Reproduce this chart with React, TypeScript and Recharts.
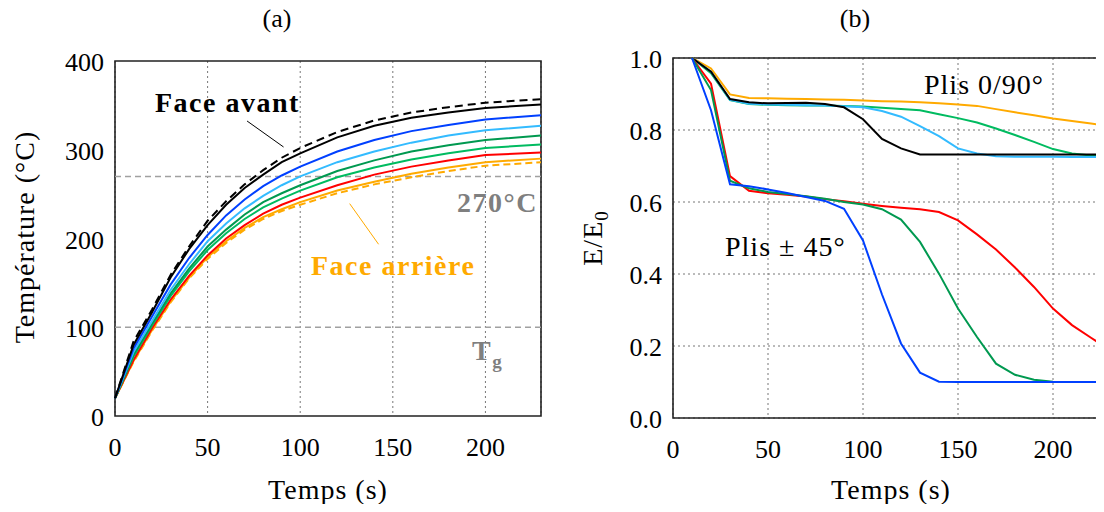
import { LineChart, Line, XAxis, YAxis, CartesianGrid, ReferenceLine, ReferenceArea } from 'recharts'

// (a) temperature vs time
const tempTimes = [0, 10, 20, 30, 40, 50, 60, 70, 80, 90, 100, 120, 140, 160, 180, 200, 230]
const avantDashed = [20, 84, 120, 159, 191, 220, 242, 261, 277, 291, 302, 320, 333, 342, 348, 353, 357]
const avantSolid = [20, 80, 117, 156, 188, 215, 238, 257, 272, 286, 296, 314, 327, 336, 342, 347, 351]
const bleu = [20, 76, 112, 148, 178, 204, 226, 244, 259, 271, 281, 298, 311, 321, 328, 334, 339]
const bleuClair = [20, 72, 107, 142, 171, 197, 217, 234, 248, 260, 270, 286, 298, 308, 316, 322, 327]
const vertFonce = [20, 69, 104, 138, 166, 191, 210, 227, 241, 251, 260, 276, 288, 298, 305, 311, 316]
const vert = [20, 67, 102, 135, 163, 187, 206, 222, 235, 245, 254, 269, 280, 289, 296, 302, 306]
const rouge = [20, 63, 99, 131, 158, 181, 200, 215, 228, 238, 246, 260, 272, 281, 288, 294, 297]
const arriereSolid = [20, 62, 97, 129, 156, 179, 197, 212, 224, 233, 241, 254, 264, 273, 280, 286, 290]
const arriereDashed = [20, 61, 96, 128, 155, 177, 195, 210, 222, 231, 238, 251, 261, 269, 276, 282, 286]

// (b) E/E0 vs time
const modTimes = [10, 20, 30, 40, 50, 60, 70, 80, 90, 100, 110, 120, 130, 140, 150, 160, 170, 180, 190, 200, 210, 220, 230]
const p090Orange = [1.0, 0.971, 0.899, 0.889, 0.888, 0.887, 0.886, 0.885, 0.884, 0.882, 0.880, 0.879, 0.877, 0.874, 0.871, 0.867, 0.858, 0.849, 0.841, 0.832, 0.825, 0.818, 0.811]
const p090Vert = [1.0, 0.958, 0.883, 0.872, 0.870, 0.869, 0.868, 0.868, 0.867, 0.865, 0.862, 0.858, 0.855, 0.844, 0.833, 0.821, 0.804, 0.786, 0.767, 0.747, 0.735, 0.729, 0.725]
const p090BleuClair = [1.0, 0.962, 0.884, 0.873, 0.871, 0.870, 0.869, 0.868, 0.866, 0.863, 0.853, 0.837, 0.811, 0.783, 0.749, 0.735, 0.727, 0.726, 0.726, 0.726, 0.725, 0.725, 0.725]
const p090Noir = [1.0, 0.962, 0.886, 0.877, 0.874, 0.875, 0.876, 0.872, 0.863, 0.830, 0.775, 0.749, 0.732, 0.732, 0.732, 0.732, 0.732, 0.732, 0.732, 0.732, 0.732, 0.732, 0.732]
const p45Rouge = [1.0, 0.929, 0.672, 0.631, 0.624, 0.620, 0.615, 0.608, 0.602, 0.595, 0.589, 0.584, 0.580, 0.572, 0.549, 0.510, 0.468, 0.418, 0.364, 0.304, 0.258, 0.223, 0.188]
const p45Vert = [1.0, 0.911, 0.659, 0.638, 0.628, 0.622, 0.616, 0.609, 0.600, 0.593, 0.580, 0.551, 0.489, 0.401, 0.304, 0.225, 0.151, 0.120, 0.106, 0.101, 0.1, 0.1, 0.1]
const p45Bleu = [1.0, 0.855, 0.649, 0.644, 0.635, 0.625, 0.614, 0.603, 0.581, 0.493, 0.343, 0.207, 0.126, 0.101, 0.1, 0.1, 0.1, 0.1, 0.1, 0.1, 0.1, 0.1, 0.1]

const timeTicks = [0, 50, 100, 150, 200]
const tempTicks = [0, 100, 200, 300, 400]
const modTicks = [0, 0.2, 0.4, 0.6, 0.8, 1.0]

const SERIF = 'Liberation Serif, serif'
const ORANGE = '#ffaa00'
const GREY = '#7f7f7f'

const tempData = tempTimes.map((t, i) => ({
  t,
  avantDashed: avantDashed[i],
  avantSolid: avantSolid[i],
  bleu: bleu[i],
  bleuClair: bleuClair[i],
  vertFonce: vertFonce[i],
  vert: vert[i],
  rouge: rouge[i],
  arriereSolid: arriereSolid[i],
  arriereDashed: arriereDashed[i],
}))

const modData = modTimes.map((t, i) => ({
  t,
  orange: p090Orange[i],
  vert090: p090Vert[i],
  bleuClair: p090BleuClair[i],
  noir: p090Noir[i],
  rouge: p45Rouge[i],
  vert45: p45Vert[i],
  bleu: p45Bleu[i],
}))

const XTick = ({ x, y, payload }: any) => (
  <text x={x} y={y + 40} textAnchor="middle" style={{ fontFamily: SERIF, fontSize: 26 }} fill="#000">
    {payload.value}
  </text>
)

const makeYTick = (digits: number) => ({ x, y, payload }: any) => (
  <text x={x - 11} y={y + 10} textAnchor="end" style={{ fontFamily: SERIF, fontSize: 26 }} fill="#000">
    {Number(payload.value).toFixed(digits)}
  </text>
)

const gridDash = '2 3'
const regular = { fontFamily: SERIF, fontSize: 28, letterSpacing: 1 }
const bold = { fontFamily: SERIF, fontSize: 28, fontWeight: 700, letterSpacing: 1.5 }

export default function App() {
  return (
    <div style={{ position: 'relative', width: 1104, height: 512, margin: -8, overflow: 'hidden', background: '#fff' }}>
      <div style={{ position: 'absolute', left: 0, top: 0 }}>
        <LineChart width={560} height={470} data={tempData} margin={{ top: 61, right: 19, bottom: 14, left: 0 }}>
          <CartesianGrid horizontal={false} stroke="#777" strokeDasharray={gridDash} />
          <XAxis dataKey="t" type="number" domain={[0, 230]} ticks={timeTicks} height={40}
            tickSize={0} tickMargin={0} axisLine={false} tickLine={false} tick={<XTick />} />
          <YAxis type="number" domain={[0, 400]} ticks={tempTicks} width={115}
            tickSize={0} tickMargin={0} axisLine={false} tickLine={false} tick={makeYTick(0)} />
          <ReferenceLine y={270} stroke="#a0a0a0" strokeWidth={1.5} strokeDasharray="6 4" />
          <ReferenceLine y={100} stroke="#a0a0a0" strokeWidth={1.5} strokeDasharray="6 4" />
          <Line dataKey="arriereDashed" stroke={ORANGE} strokeWidth={2} strokeDasharray="7 4" dot={false} isAnimationActive={false} />
          <Line dataKey="arriereSolid" stroke={ORANGE} strokeWidth={2} dot={false} isAnimationActive={false} />
          <Line dataKey="rouge" stroke="#ff0000" strokeWidth={2} dot={false} isAnimationActive={false} />
          <Line dataKey="vert" stroke="#00bb60" strokeWidth={2} dot={false} isAnimationActive={false} />
          <Line dataKey="vertFonce" stroke="#009950" strokeWidth={2} dot={false} isAnimationActive={false} />
          <Line dataKey="bleuClair" stroke="#33bbff" strokeWidth={2} dot={false} isAnimationActive={false} />
          <Line dataKey="bleu" stroke="#0040ff" strokeWidth={2} dot={false} isAnimationActive={false} />
          <Line dataKey="avantSolid" stroke="#000" strokeWidth={2} dot={false} isAnimationActive={false} />
          <Line dataKey="avantDashed" stroke="#000" strokeWidth={2} strokeDasharray="8 5" dot={false} isAnimationActive={false} />
          <ReferenceLine segment={[{ x: 71.3, y: 332.4 }, { x: 91, y: 303.1 }]} stroke="#000" strokeWidth={1} />
          <ReferenceLine segment={[{ x: 126.7, y: 239.3 }, { x: 142.3, y: 193.5 }]} stroke={ORANGE} strokeWidth={1} />
          <ReferenceArea x1={0} x2={230} y1={0} y2={400} fill="none" stroke="#222" strokeWidth={1.6} />
        </LineChart>
      </div>

      <div style={{ position: 'absolute', left: 560, top: 0 }}>
        <LineChart width={560} height={470} data={modData} margin={{ top: 58, right: 10, bottom: 12, left: 0 }}>
          <CartesianGrid stroke="#777" strokeDasharray={gridDash} />
          <XAxis dataKey="t" type="number" domain={[0, 230]} ticks={timeTicks} height={40}
            tickSize={0} tickMargin={0} axisLine={false} tickLine={false} tick={<XTick />} />
          <YAxis type="number" domain={[0, 1]} ticks={modTicks} width={113}
            tickSize={0} tickMargin={0} axisLine={false} tickLine={false} tick={makeYTick(1)} />
          <Line dataKey="orange" stroke={ORANGE} strokeWidth={2} dot={false} isAnimationActive={false} />
          <Line dataKey="vert090" stroke="#00bb60" strokeWidth={2} dot={false} isAnimationActive={false} />
          <Line dataKey="bleuClair" stroke="#33bbff" strokeWidth={2} dot={false} isAnimationActive={false} />
          <Line dataKey="noir" stroke="#000" strokeWidth={2} dot={false} isAnimationActive={false} />
          <Line dataKey="rouge" stroke="#ff0000" strokeWidth={2} dot={false} isAnimationActive={false} />
          <Line dataKey="vert45" stroke="#009950" strokeWidth={2} dot={false} isAnimationActive={false} />
          <Line dataKey="bleu" stroke="#0040ff" strokeWidth={2} dot={false} isAnimationActive={false} />
          <ReferenceArea x1={0} x2={230} y1={0} y2={1} fill="none" stroke="#222" strokeWidth={1.6} />
        </LineChart>
      </div>

      <svg width={1104} height={512} style={{ position: 'absolute', left: 0, top: 0, pointerEvents: 'none' }}>
        <g fill="#000">
          <text x={277} y={27} style={{ fontFamily: SERIF, fontSize: 26 }} textAnchor="middle">(a)</text>
          <text x={855} y={27} style={{ fontFamily: SERIF, fontSize: 26 }} textAnchor="middle">(b)</text>
          <text transform="translate(34,237) rotate(-90)" style={regular} textAnchor="middle">Température (°C)</text>
          <text x={328} y={499} style={regular} textAnchor="middle">Temps (s)</text>
          <text x={891} y={499} style={regular} textAnchor="middle">Temps (s)</text>
          <text transform="translate(602,238) rotate(-90)" style={regular} textAnchor="middle">
            E/E<tspan style={{ fontSize: 19 }} dy={6}>0</tspan>
          </text>
          <text x={924} y={94} style={regular}>Plis 0/90°</text>
          <text x={725} y={256} style={regular}>Plis ± 45°</text>
        </g>
        <g>
          <text x={155} y={112} style={bold} fill="#000">Face avant</text>
          <text x={457} y={212} style={bold} fill={GREY}>270°C</text>
          <text x={311} y={275} style={bold} fill={ORANGE}>Face arrière</text>
          <text x={472} y={360} style={bold} fill={GREY}>T<tspan style={{ fontSize: 19 }} dy={8}>g</tspan></text>
        </g>
      </svg>
    </div>
  )
}
